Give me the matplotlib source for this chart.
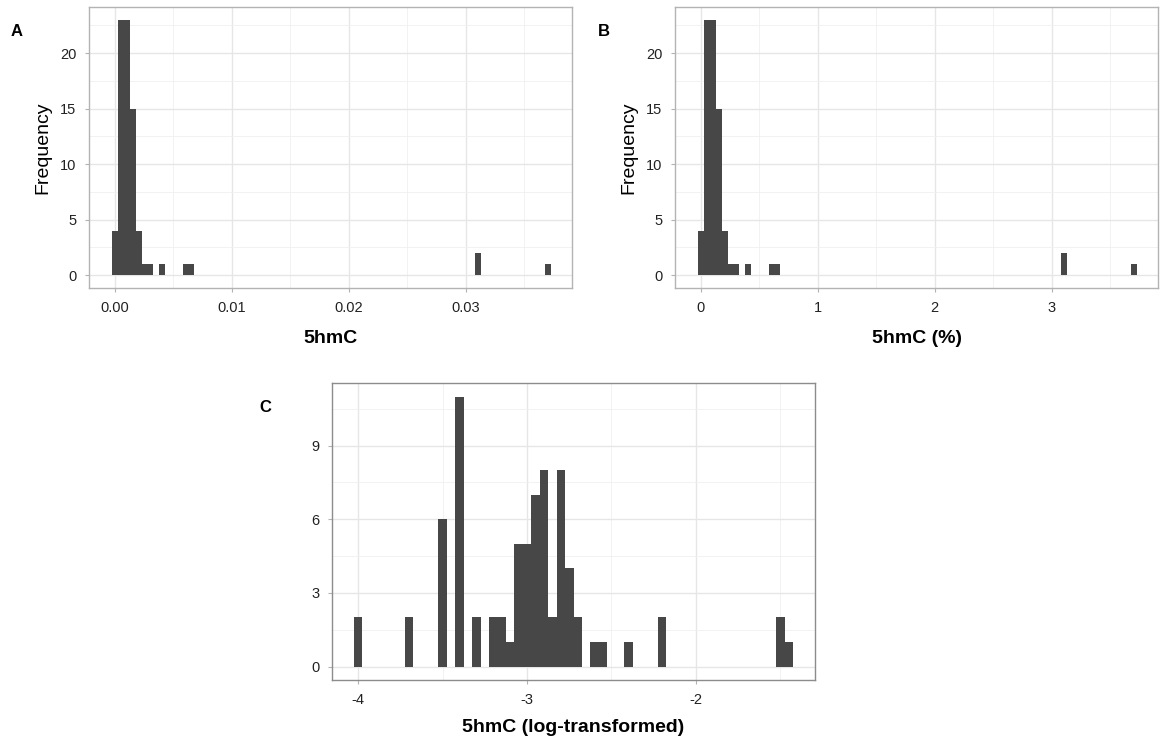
import matplotlib
matplotlib.use("Agg")
import matplotlib.pyplot as plt
from matplotlib.ticker import MultipleLocator
import numpy as np

plt.rcParams['font.family'] = ['Liberation Sans', 'DejaVu Sans']
plt.rcParams['axes.unicode_minus'] = False

# panel A: raw 5hmC histogram (left bin edges, counts)
a_bin_left = [-0.0002, 0.0003, 0.0008, 0.0013, 0.0018, 0.0023, 0.0028,
              0.0038, 0.0058, 0.0063, 0.0308, 0.0368]
a_counts = [4, 23, 23, 15, 4, 1, 1, 1, 1, 1, 2, 1]
a_binwidth = 0.0005

# panel B: same data in percent
b_bin_left = [v * 100 for v in a_bin_left]
b_counts = a_counts
b_binwidth = a_binwidth * 100

# panel C: log-transformed (bin centres, counts)
c_centers = [-4.0, -3.7, -3.5, -3.4, -3.3, -3.2, -3.15, -3.1, -3.05, -3.0,
             -2.95, -2.9, -2.85, -2.8, -2.75, -2.7, -2.6, -2.55, -2.4, -2.2,
             -1.5, -1.45]
c_counts = [2, 2, 6, 11, 2, 2, 2, 1, 5, 5, 7, 8, 2, 8, 4, 2, 1, 1, 1, 2, 2, 1]
c_binwidth = 0.05

BAR = '#474747'
W, H = 1163, 742


def px_axes(fig, left, top, right, bottom):
    return fig.add_axes([left / W, 1 - bottom / H, (right - left) / W, (bottom - top) / H])


def style(ax, border='#B3B3B3'):
    ax.set_axisbelow(True)
    ax.grid(which='major', color='#E6E6E6', lw=1.0)
    ax.grid(which='minor', color='#F0F0F0', lw=0.6)
    for s in ax.spines.values():
        s.set_color(border)
        s.set_linewidth(1.0)
    ax.tick_params(which='major', length=3, width=0.8, color='#B3B3B3',
                   labelsize=10.5, labelcolor='#222222', pad=6)
    ax.tick_params(which='minor', length=0)


fig = plt.figure(figsize=(W / 100, H / 100), dpi=100)

# A
axA = px_axes(fig, 89, 7, 572, 288)
axA.bar(a_bin_left, a_counts, width=a_binwidth, align='edge', color=BAR, lw=0)
axA.set_xlim(-0.0022, 0.0391)
axA.set_ylim(-1.15, 24.15)
axA.xaxis.set_major_locator(MultipleLocator(0.01))
axA.xaxis.set_minor_locator(MultipleLocator(0.005))
axA.yaxis.set_major_locator(MultipleLocator(5))
axA.yaxis.set_minor_locator(MultipleLocator(2.5))
axA.xaxis.set_major_formatter(lambda v, p: f'{v:.2f}')
style(axA)
axA.set_xlabel('5hmC', fontsize=14, fontweight='bold', labelpad=11)
axA.set_ylabel('Frequency', fontsize=14, labelpad=6)

# B
axB = px_axes(fig, 675, 7, 1158, 288)
axB.bar(b_bin_left, b_counts, width=b_binwidth, align='edge', color=BAR, lw=0)
axB.set_xlim(-0.22, 3.91)
axB.set_ylim(-1.15, 24.15)
axB.xaxis.set_major_locator(MultipleLocator(1))
axB.xaxis.set_minor_locator(MultipleLocator(0.5))
axB.yaxis.set_major_locator(MultipleLocator(5))
axB.yaxis.set_minor_locator(MultipleLocator(2.5))
style(axB)
axB.set_xlabel('5hmC (%)', fontsize=14, fontweight='bold', labelpad=11)
axB.set_ylabel('Frequency', fontsize=14, labelpad=6)

# C
axC = px_axes(fig, 332, 383, 815, 680)
axC.bar(c_centers, c_counts, width=c_binwidth, color=BAR, lw=0)
axC.set_xlim(-4.155, -1.295)
axC.set_ylim(-0.55, 11.55)
axC.xaxis.set_major_locator(MultipleLocator(1))
axC.xaxis.set_minor_locator(MultipleLocator(0.5))
axC.yaxis.set_major_locator(MultipleLocator(3))
axC.yaxis.set_minor_locator(MultipleLocator(1.5))
style(axC, border='#8C8C8C')
axC.set_xlabel('5hmC (log-transformed)', fontsize=14, fontweight='bold', labelpad=9)

fig.text(17 / W, 1 - 32 / H, 'A', fontsize=12, fontweight='bold', va='center', ha='center')
fig.text(604 / W, 1 - 32 / H, 'B', fontsize=12, fontweight='bold', va='center', ha='center')
fig.text(265 / W, 1 - 408 / H, 'C', fontsize=12, fontweight='bold', va='center', ha='center')

fig.savefig('out.png', dpi=100)
